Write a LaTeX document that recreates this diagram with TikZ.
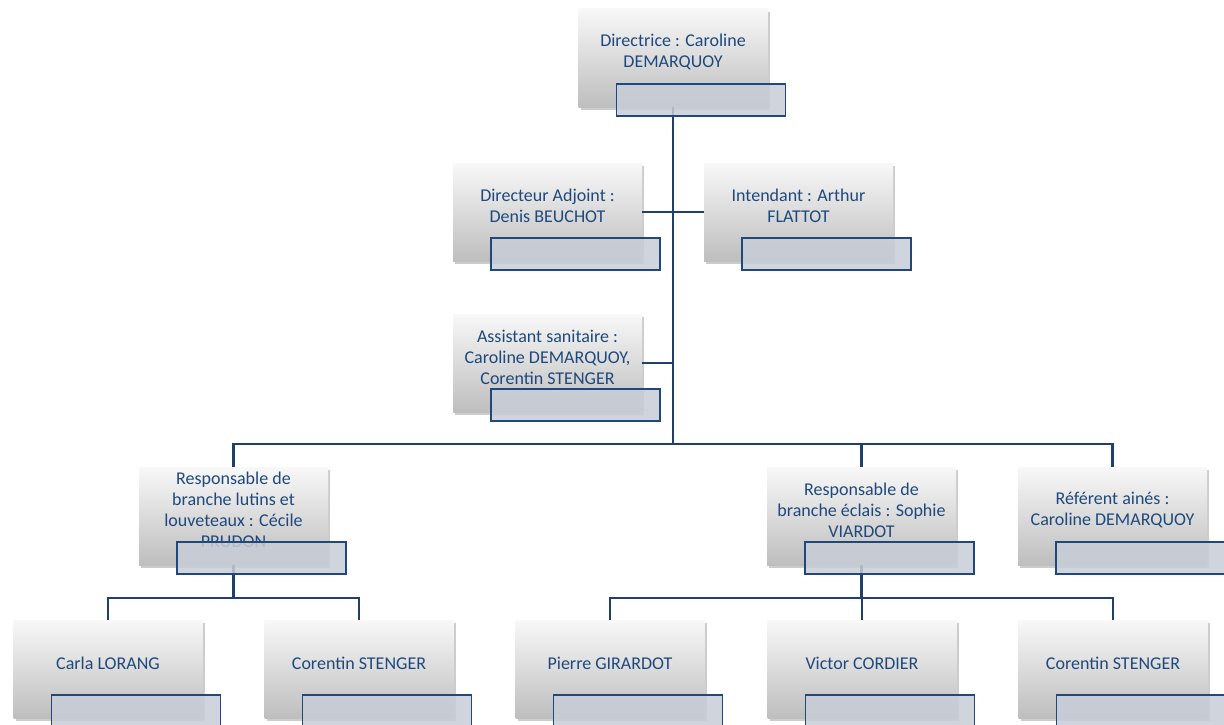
\documentclass[tikz,border=0pt]{standalone}
\usepackage{fontspec}
\setmainfont{Carlito}
\usetikzlibrary{shadows}
\definecolor{navy}{HTML}{1F497D}
\definecolor{linenavy}{HTML}{213F6B}
\definecolor{tagfill}{HTML}{C8CDD7}
\definecolor{cardtop}{HTML}{F8F8F8}
\definecolor{cardmid}{HTML}{EEEEEE}
\definecolor{cardbot}{HTML}{BEBEBE}

\begin{document}
\begin{tikzpicture}[x=1pt,y=-1pt,
	card/.style={rectangle,minimum width=189pt,minimum height=98pt,inner sep=0pt,
		top color=cardtop,middle color=cardmid,bottom color=cardbot,
		drop shadow={shadow xshift=2pt,shadow yshift=-3pt,opacity=.4}},
	who/.style={align=center,text=navy,inner sep=0pt,font=\fontsize{18}{21}\selectfont},
	tag/.style={rectangle,draw=navy,line width=1.6pt,fill=tagfill,fill opacity=.85,
		minimum width=169pt,minimum height=32pt,inner sep=0pt},
	link/.style={draw=linenavy,line width=2.2pt}]
	\useasboundingbox (0,0) rectangle (1224,725);
	% cards
	\node[card] (dir) at (673,58) {};
	\node[card] (adj) at (547.5,212) {};
	\node[card] (int) at (798.5,212) {};
	\node[card] (san) at (547.5,363) {};
	\node[card] (lut) at (233.5,516) {};
	\node[card] (ecl) at (861.5,516) {};
	\node[card] (ain) at (1112.5,516) {};
	\node[card] (p1) at (108,669) {};
	\node[card] (p2) at (359,669) {};
	\node[card] (p3) at (610,669) {};
	\node[card] (p4) at (862,669) {};
	\node[card] (p5) at (1113,669) {};
	% names
	\node[who] (dirT) at ([yshift=6pt]dir.center) {Directrice : Caroline\\DEMARQUOY};
	\node[who] (adjT) at ([yshift=6pt]adj.center) {Directeur Adjoint :\\Denis BEUCHOT};
	\node[who] (intT) at ([yshift=6pt]int.center) {Intendant : Arthur\\FLATTOT};
	\node[who] (sanT) at ([yshift=6pt]san.center) {Assistant sanitaire :\\Caroline DEMARQUOY,\\Corentin STENGER};
	\node[who] (lutT) at ([yshift=6pt]lut.center) {Responsable de\\branche lutins et\\louveteaux : Cécile\\PRUDON};
	\node[who] (eclT) at ([yshift=6pt]ecl.center) {Responsable de\\branche éclais : Sophie\\VIARDOT};
	\node[who] (ainT) at ([yshift=6pt]ain.center) {Référent ainés :\\Caroline DEMARQUOY};
	\node[who] (p1T) at ([yshift=6pt]p1.center) {Carla LORANG};
	\node[who] (p2T) at ([yshift=6pt]p2.center) {Corentin STENGER};
	\node[who] (p3T) at ([yshift=6pt]p3.center) {Pierre GIRARDOT};
	\node[who] (p4T) at ([yshift=6pt]p4.center) {Victor CORDIER};
	\node[who] (p5T) at ([yshift=6pt]p5.center) {Corentin STENGER};
	% links
	\coordinate (k1) at (0,444);
	\coordinate (k2) at (0,598);
	\draw[link] (dir.south) -- (dir.south |- k1);
	\draw[link] (adj.east) -- (int.west);
	\draw[link] (san.east) -- (san.east -| dir.south);
	\draw[link] (lut.north) |- (ain.north |- k1) -- (ain.north);
	\draw[link] (ecl.north) -- (ecl.north |- k1);
	\draw[link] (lut.south) -- (lut.south |- k2);
	\draw[link] (p1.north) |- (p2.north |- k2) -- (p2.north);
	\draw[link] (ecl.south) -- (ecl.south |- k2);
	\draw[link] (p3.north) |- (p5.north |- k2) -- (p5.north);
	\draw[link] (p4.north) -- (p4.north |- k2);
	% tags
	\node[tag] (dirB) at ([xshift=28pt,yshift=-42pt]dir.center) {};
	\node[tag] (adjB) at ([xshift=28pt,yshift=-42pt]adj.center) {};
	\node[tag] (intB) at ([xshift=28pt,yshift=-42pt]int.center) {};
	\node[tag] (sanB) at ([xshift=28pt,yshift=-42pt]san.center) {};
	\node[tag] (lutB) at ([xshift=28pt,yshift=-42pt]lut.center) {};
	\node[tag] (eclB) at ([xshift=28pt,yshift=-42pt]ecl.center) {};
	\node[tag] (ainB) at ([xshift=28pt,yshift=-42pt]ain.center) {};
	\node[tag] (p1B) at ([xshift=28pt,yshift=-42pt]p1.center) {};
	\node[tag] (p2B) at ([xshift=28pt,yshift=-42pt]p2.center) {};
	\node[tag] (p3B) at ([xshift=28pt,yshift=-42pt]p3.center) {};
	\node[tag] (p4B) at ([xshift=28pt,yshift=-42pt]p4.center) {};
	\node[tag] (p5B) at ([xshift=28pt,yshift=-42pt]p5.center) {};
\end{tikzpicture}
\end{document}
